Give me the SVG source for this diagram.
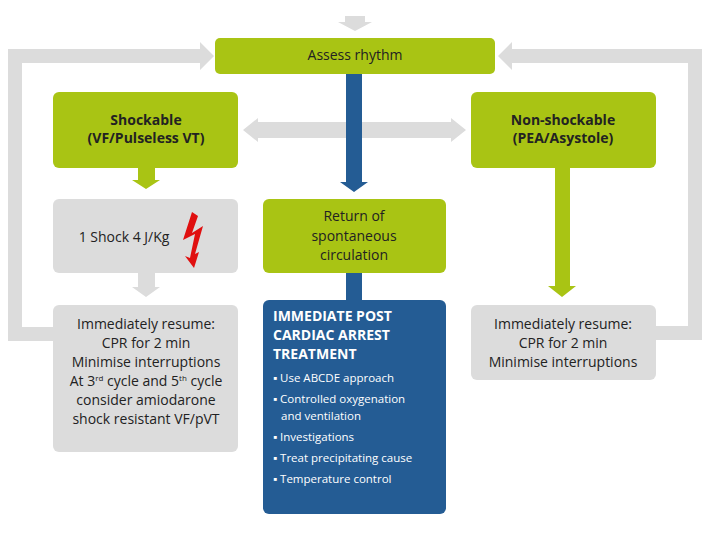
<svg xmlns="http://www.w3.org/2000/svg" width="720" height="540" viewBox="0 0 720 540">
<style>
.g{fill:#a9c414}.gr{fill:#dcdcdc}.bl{fill:#245c94}
text{font-family:"Open Sans","Liberation Sans",sans-serif;font-size:14px;fill:#222;text-anchor:middle}
.b{font-weight:bold}
.w{fill:#fff;text-anchor:start}
.s{font-size:11.5px}
</style>
<rect width="720" height="540" fill="#fff"/>
<g id="connectors">
<polygon class="gr" points="345,16 365,16 365,22 372,22 355,31 338,22 345,22"/>
<polygon class="gr" points="8,49 200,49 200,42 214,56 200,70 200,63 22,63 22,327 55,327 55,341 8,341"/>
<polygon class="gr" points="702,49 512,49 512,42 498,56 512,70 512,63 688,63 688,326 655,326 655,340 702,340"/>
<polygon class="gr" points="243,130 258,118 258,122 451,122 451,118 466,130 451,142 451,138 258,138 258,142"/>
<polygon class="bl" points="346,74 362,74 362,182 368,182 354,192 340,182 346,182"/>
<polygon class="g" points="138,168 155,168 155,180 160,180 146,189 132,180 138,180"/>
<polygon class="gr" points="138,273 155,273 155,287 160,287 146,297 132,287 138,287"/>
<rect class="bl" x="346" y="272" width="16" height="30"/>
<polygon class="g" points="555,168 570,168 570,286 576,286 562,297 548,286 555,286"/>
</g>
<g id="assess"><rect class="g" x="215" y="38" width="280" height="36" rx="5"/><text x="355" y="60">Assess rhythm</text></g>
<g id="shockable"><rect class="g" x="53" y="92" width="185" height="76" rx="6"/><text class="b" x="146" y="125">Shockable</text><text class="b" x="146" y="143">(VF/Pulseless VT)</text></g>
<g id="nonshockable"><rect class="g" x="471" y="92" width="185" height="76" rx="6"/><text class="b" x="563" y="125">Non-shockable</text><text class="b" x="563" y="143">(PEA/Asystole)</text></g>
<g id="shock"><rect class="gr" x="53" y="199" width="185" height="74" rx="6"/><text x="124" y="242">1 Shock 4 J/Kg</text>
<polygon fill="#e01010" points="192,212 183,240 195,234 190,258 185,256 194,268 199,252 195,254 203,226 192,233 198,216"/></g>
<g id="rosc"><rect class="g" x="263" y="199" width="183" height="74" rx="6"/><text x="354" y="221">Return of</text><text x="354" y="241">spontaneous</text><text x="354" y="260">circulation</text></g>
<g id="cprleft"><rect class="gr" x="53" y="305" width="185" height="147" rx="6"/>
<text x="146" y="329">Immediately resume:</text><text x="146" y="348">CPR for 2 min</text><text x="146" y="367">Minimise interruptions</text>
<text x="146" y="386">At 3<tspan font-size="8" dy="-5">rd</tspan><tspan dy="5"> cycle and 5</tspan><tspan font-size="8" dy="-5">th</tspan><tspan dy="5"> cycle</tspan></text>
<text x="146" y="405">consider amiodarone</text><text x="146" y="424">shock resistant VF/pVT</text></g>
<g id="post"><rect class="bl" x="263" y="300" width="183" height="214" rx="6"/>
<text class="w b" x="273" y="321">IMMEDIATE POST</text><text class="w b" x="273" y="340">CARDIAC ARREST</text><text class="w b" x="273" y="359">TREATMENT</text>
<text class="w s" x="273" y="382">▪ Use ABCDE approach</text>
<text class="w s" x="273" y="403">▪ Controlled oxygenation</text>
<text class="w s" x="281" y="420">and ventilation</text>
<text class="w s" x="273" y="441">▪ Investigations</text>
<text class="w s" x="273" y="462">▪ Treat precipitating cause</text>
<text class="w s" x="273" y="483">▪ Temperature control</text></g>
<g id="cprright"><rect class="gr" x="471" y="305" width="185" height="75" rx="6"/>
<text x="563" y="329">Immediately resume:</text><text x="563" y="348">CPR for 2 min</text><text x="563" y="367">Minimise interruptions</text></g>
</svg>
